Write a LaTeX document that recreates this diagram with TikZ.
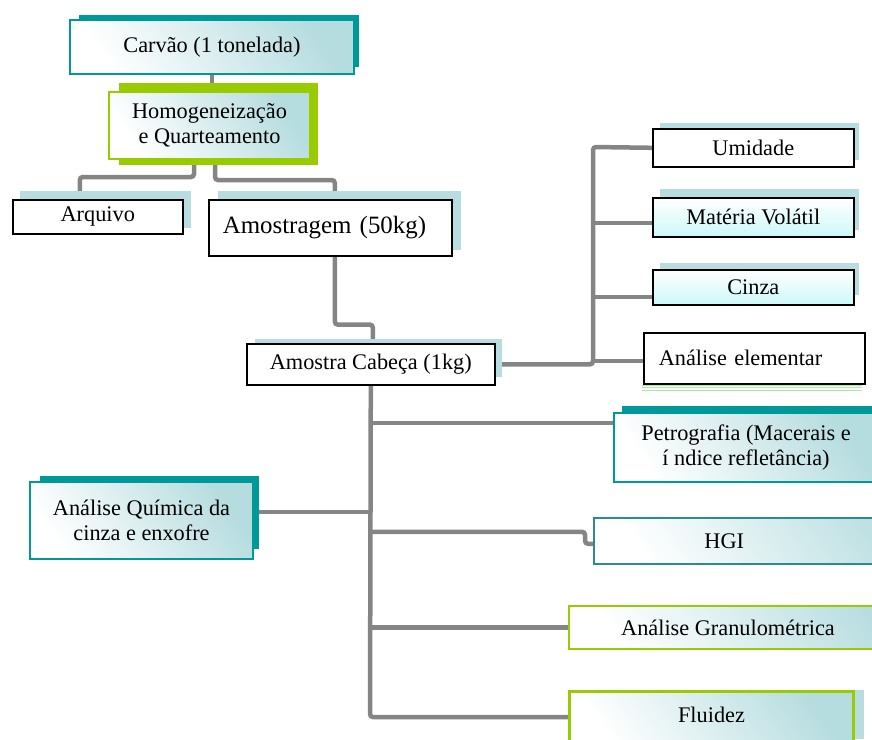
\documentclass[tikz,border=0pt]{standalone}
\usepackage{fontspec}
\setmainfont{Liberation Serif}
\pgfdeclarelayer{links}
\pgfdeclarelayer{shades}
\pgfsetlayers{links,shades,main}

\definecolor{tealc}{HTML}{009999}
\definecolor{greenc}{HTML}{99CC00}
\definecolor{shblue}{HTML}{B8DDE1}
\definecolor{linkgray}{HTML}{858585}
\definecolor{glow}{HTML}{B5DCDF}
\definecolor{cyanlow}{HTML}{CCF8F8}
\definecolor{hgiteal}{HTML}{2A8C8C}
\definecolor{palegreen}{HTML}{A8EFA0}

\tikzset{
  box/.style={rectangle, anchor=north west, inner sep=2pt, align=center,
    font=\fontsize{22.3}{24.5}\selectfont},
  plainbox/.style={box, draw=black, line width=1.6pt, fill=white},
  cyanbox/.style={box, draw=black, line width=1.6pt,
    top color=white, bottom color=cyanlow},
  glowfill/.style={top color=glow, bottom color=white, shading angle=-55},
  tealbox/.style={box, draw=tealc, line width=2pt, glowfill},
  greenbox/.style={box, draw=greenc, line width=2pt, glowfill},
  conn/.style={draw=linkgray, line width=4.5pt, rounded corners=3pt},
  % boxes that run off the right edge of the page
  openbox/.style={overlay, minimum width=360},
}

\begin{document}
\begin{tikzpicture}[x=1pt, y=-1pt]
\useasboundingbox (0,0) rectangle (872,739);
\clip (0,0) rectangle (872,739);

% drop shadows behind the boxes
\begin{pgfonlayer}{shades}
  \fill[tealc]  (79,15)   rectangle (359,67);
  \fill[greenc] (119,83)  rectangle (318,165);
  \fill[shblue] (20,191)  rectangle (191,228);
  \fill[shblue] (218,191) rectangle (461,250);
  \fill[shblue] (255,339) rectangle (502,377);
  \fill[shblue] (660,123) rectangle (859,160);
  \fill[shblue] (660,189) rectangle (859,230);
  \fill[shblue] (660,263) rectangle (859,295);
  \fill[tealc]  (622,406) rectangle (872,470);
  \fill[tealc]  (40,476)  rectangle (259,549);
  \fill[shblue] (580,690) rectangle (864,739);
  \foreach \yy in {385,387.5,390}
    \draw[palegreen, line width=0.6pt] (642,\yy) -- (862,\yy);
\end{pgfonlayer}

% boxes
\node[tealbox, minimum width=284, minimum height=54] (carvao) at (69,19) {Carvão (1 tonelada)};
\node[greenbox, minimum width=201, minimum height=67] (homog) at (108,91) {Homogeneização\\e Quarteamento};
\node[plainbox, minimum width=170, minimum height=34] (arquivo) at (12,199) {Arquivo};
\node[plainbox, minimum height=56, inner xsep=14pt, text width=215pt, align=left,
      font=\fontsize{24.9}{27}\selectfont] (amostragem) at (208,199) {Amostragem (50kg)};
\node[plainbox, minimum width=248, minimum height=41] (cabeca) at (246,343) {Amostra Cabeça (1kg)};
\node[plainbox, minimum width=201, minimum height=38] (umidade) at (652,128) {Umidade};
\node[cyanbox, minimum width=201, minimum height=39] (materia) at (652,197) {Matéria Volátil};
\node[cyanbox, minimum width=201, minimum height=35] (cinza) at (652,269) {Cinza};
\node[plainbox, minimum height=51, inner xsep=15pt, text width=191pt, align=left] (elementar) at (643,332) {Análise elementar};
\node[tealbox, overlay, minimum width=264, minimum height=69] (petro) at (613,412) {Petrografia (Macerais e\\í ndice refletância)};
\node[tealbox, minimum width=223, minimum height=77] (quimica) at (29,481) {Análise Química da\\cinza e enxofre};
\node[box, openbox, draw=hgiteal, line width=1.5pt, glowfill, minimum height=46] (hgi) at (593,517) {HGI\hspace*{99pt}};
\node[greenbox, openbox, minimum height=43] (gran) at (568,605) {Análise Granulométrica\hspace*{42pt}};
\node[greenbox, overlay, line width=3pt, minimum width=284, minimum height=55] (fluidez) at (568,690) {\raisebox{9pt}{Fluidez}};

% connectors
\begin{pgfonlayer}{links}
  \coordinate (rt) at (593,147);
  \coordinate (trunkend) at (370,717);
  \draw[conn] (carvao.south) -- (carvao.south |- homog.north);
  \draw[conn] ([xshift=-15.5pt]homog.south) -- ++(0,17) -| ([xshift=-18pt]arquivo.north);
  \draw[conn] ([xshift=5.5pt]homog.south) -- ++(0,20) -| ([xshift=4.5pt]amostragem.north);
  \draw[conn] ([xshift=4.5pt]amostragem.south) -- ++(0,68) -| ([xshift=2pt]cabeca.north);

  % right-hand group
  \draw[conn] (cabeca.east) -| (rt) -- (umidade.west);
  \path ([yshift=-5.5pt]materia.west) coordinate (mw)
        ([yshift=-9.5pt]cinza.west) coordinate (cw)
        ([yshift=-2.5pt]elementar.west) coordinate (ew);
  \draw[conn] (mw) -- (mw -| rt);
  \draw[conn] (cw) -- (cw -| rt);
  \draw[conn] (ew) -- (ew -| rt);

  % lower trunk
  \draw[conn] (cabeca.south) -- (trunkend) -- (trunkend -| fluidez.west);
  \path ([yshift=24.5pt]petro.west) coordinate (pw)
        ([yshift=8.5pt]quimica.east) coordinate (qe)
        ([yshift=-3pt]hgi.west) coordinate (hw);
  \draw[conn] (pw) -- (pw -| cabeca.south);
  \draw[conn] (qe) -- (qe -| cabeca.south);
  \draw[conn] (hw) -- ++(-8,0) -- ++(0,-12) coordinate (hj) -- (hj -| cabeca.south);
  \draw[conn] (gran.west) -- (gran.west -| cabeca.south);
\end{pgfonlayer}
\end{tikzpicture}
\end{document}
